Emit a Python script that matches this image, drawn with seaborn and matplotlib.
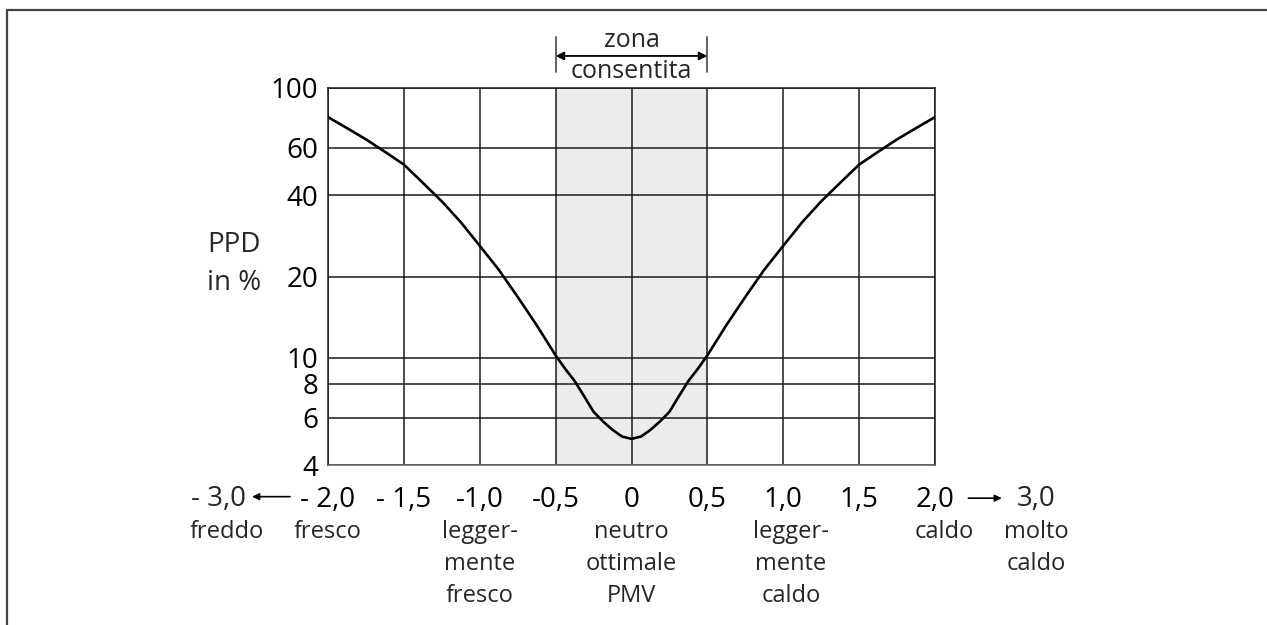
import numpy as np
import pandas as pd
import matplotlib
matplotlib.use('Agg')
import matplotlib.pyplot as plt
import seaborn as sns
from matplotlib.lines import Line2D
from matplotlib.ticker import NullLocator, FixedLocator, FixedFormatter

# Dati (PMV -> PPD in %)
pmv = [-2.0, -1.875, -1.75, -1.625, -1.5, -1.375, -1.25, -1.125, -1.0, -0.875, -0.75, -0.625,
       -0.5, -0.4375, -0.375, -0.3125, -0.25, -0.1875, -0.125, -0.0625, 0.0,
       0.0625, 0.125, 0.1875, 0.25, 0.3125, 0.375, 0.4375, 0.5,
       0.625, 0.75, 0.875, 1.0, 1.125, 1.25, 1.375, 1.5, 1.625, 1.75, 1.875, 2.0]
ppd = [78, 71, 64.5, 58, 52, 44.5, 38, 31.8, 26, 21.2, 16.8, 13.2,
       10.2, 9.1, 8.2, 7.2, 6.3, 5.8, 5.4, 5.1, 5.0,
       5.1, 5.4, 5.8, 6.3, 7.2, 8.2, 9.1, 10.2,
       13.2, 16.8, 21.2, 26, 31.8, 38, 44.5, 52, 58, 64.5, 71, 78]

x_ticks = [-2.0, -1.5, -1.0, -0.5, 0.0, 0.5, 1.0, 1.5, 2.0]
x_labels = ['- 2,0', '- 1,5', '-1,0', '-0,5', '0', '0,5', '1,0', '1,5', '2,0']
y_ticks = [4, 6, 8, 10, 20, 40, 60, 100]
y_labels = ['4', '6', '8', '10', '20', '40', '60', '100']

# etichette verbali sotto l'asse x (posizione PMV, righe di testo)
word_pos = [-2.67, -2.0, -1.0, 0.0, 1.05, 2.06, 2.67]
word_text = [['freddo'], ['fresco'], ['legger-', 'mente', 'fresco'],
             ['neutro', 'ottimale', 'PMV'], ['legger-', 'mente', 'caldo'],
             ['caldo'], ['molto', 'caldo']]

df = pd.DataFrame({'PMV': pmv, 'PPD': ppd})

sns.set_style('white')
plt.rcParams['font.family'] = ['Open Sans', 'DejaVu Sans']

fig = plt.figure(figsize=(12.67, 6.25), dpi=100)
ax = fig.add_axes([328 / 1267, 160 / 625, 607 / 1267, 377 / 625])

# zona consentita
ax.axvspan(-0.5, 0.5, color='#ececec', zorder=0, lw=0)

sns.lineplot(data=df, x='PMV', y='PPD', ax=ax, color='black', lw=1.9, zorder=3)

ax.set_yscale('log')
ax.set_xlim(-2, 2)
ax.set_ylim(4, 100)
ax.yaxis.set_major_locator(FixedLocator(y_ticks))
ax.yaxis.set_major_formatter(FixedFormatter(y_labels))
ax.yaxis.set_minor_locator(NullLocator())
ax.set_xticks(x_ticks)
ax.set_xticklabels(x_labels)
ax.tick_params(axis='both', length=0, labelsize=20, colors='black')
ax.tick_params(axis='y', pad=7)
ax.tick_params(axis='x', pad=15)
ax.grid(True, which='major', color='#1a1a1a', lw=1.1, zorder=1)
for s in ax.spines.values():
    s.set_color('#1a1a1a')
    s.set_linewidth(1.1)
ax.spines['bottom'].set_color('#666666')
ax.set_xlabel('')
ax.set_ylabel('')

# asse y: etichetta
ax.text(-0.199, 0.565, 'PPD', transform=ax.transAxes, fontsize=20, ha='left', va='baseline')
ax.text(-0.199, 0.464, 'in %', transform=ax.transAxes, fontsize=20, ha='left', va='baseline')

trans = ax.get_xaxis_transform()

# estremi -3,0 e 3,0 con frecce
ax.text(-2.72, -0.11, '- 3,0', transform=trans, fontsize=20, ha='center', va='baseline', clip_on=False)
ax.text(2.67, -0.11, '3,0', transform=trans, fontsize=20, ha='center', va='baseline', clip_on=False)
ax.annotate('', xy=(-2.5, -0.084), xytext=(-2.25, -0.084), xycoords=trans, textcoords=trans,
            arrowprops=dict(arrowstyle='-|>', color='black', lw=1.2, mutation_scale=10,
                            shrinkA=0, shrinkB=0), annotation_clip=False)
ax.annotate('', xy=(2.44, -0.088), xytext=(2.22, -0.088), xycoords=trans, textcoords=trans,
            arrowprops=dict(arrowstyle='-|>', color='black', lw=1.2, mutation_scale=10,
                            shrinkA=0, shrinkB=0), annotation_clip=False)

# etichette verbali
row_y = [-0.194, -0.279, -0.363]
for xp, lines in zip(word_pos, word_text):
    for i, t in enumerate(lines):
        ax.text(xp, row_y[i], t, transform=trans, fontsize=17, ha='center', va='baseline', clip_on=False)

# zona consentita in alto
ax.text(0, 1.109, 'zona', transform=trans, fontsize=18, ha='center', va='baseline', clip_on=False)
ax.text(0, 1.027, 'consentita', transform=trans, fontsize=18, ha='center', va='baseline', clip_on=False)
ax.annotate('', xy=(-0.5, 1.085), xytext=(0.5, 1.085), xycoords=trans, textcoords=trans,
            arrowprops=dict(arrowstyle='<|-|>', color='black', lw=1.3, mutation_scale=12,
                            shrinkA=0, shrinkB=0), annotation_clip=False)
for xv in [-0.5, 0.5]:
    ax.plot([xv, xv], [1.042, 1.135], transform=trans, color='#555555', lw=1.3, clip_on=False)

# cornice esterna (solo bordo superiore e sinistro visibili)
fig.add_artist(Line2D([7 / 1267, 1.0], [1 - 9.5 / 625, 1 - 9.5 / 625], transform=fig.transFigure,
                      color='#444444', lw=1.6))
fig.add_artist(Line2D([7 / 1267, 7 / 1267], [0.0, 1 - 9.5 / 625], transform=fig.transFigure,
                      color='#444444', lw=1.6))

fig.savefig('out.png', dpi=100)
